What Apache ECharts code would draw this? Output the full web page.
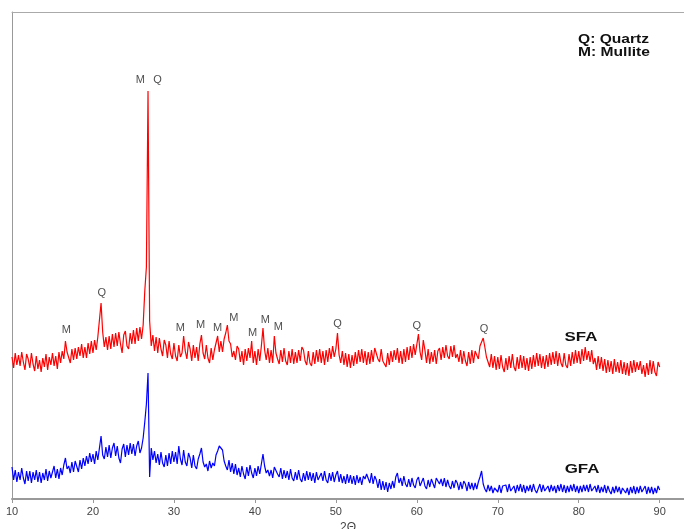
<!DOCTYPE html>
<html>
<head>
<meta charset="utf-8">
<script src="https://cdn.jsdelivr.net/npm/echarts@6/dist/echarts.min.js"></script>
<style>html,body{margin:0;padding:0;background:#fff;}#chart{width:684px;height:529px;}</style>
</head>
<body>
<div id="chart"></div>
<script>
// 2-theta sampling of the scans
const thetaStart = 10;
const thetaStep = 0.2;
const xTicks = [10, 20, 30, 40, 50, 60, 70, 80, 90];

// SFA intensity (arbitrary units, offset trace)
const sfaIntensity = [
142,131,146,134,144, 133,147,137,129,145, 140,131,146,135,128, 143,130,139,127,141,
132,145,129,142,134, 146,133,143,130,147, 136,148,140,158,147, 145,136,150,139,151,
140,152,143,155,141, 152,141,156,145,158, 146,159,149,162,160, 196,167,152,162,149,
163,150,165,152,166, 153,167,155,146,164, 168,153,150,166,155, 169,155,171,158,172,
160,174,208,232,408, 178,153,164,148,162, 146,161,150,143,159, 154,141,158,145,140,
156,143,138,154,142, 146,163,148,140,157, 150,138,154,141,152, 138,155,164,146,140,
154,141,136,151,139, 149,156,163,147,158, 147,160,166,174,158, 155,142,148,139,153,
150,137,148,134,150, 138,151,141,158,136, 148,134,150,138,153, 171,149,139,151,136,
149,136,163,146,140, 135,149,137,151,138, 134,148,136,150,135, 147,136,149,138,152,
149,138,134,148,136, 133,147,135,149,137, 150,136,148,134,149, 137,151,140,153,142,
150,166,144,136,148, 134,146,132,145,131, 144,133,147,135,149, 137,150,136,148,134,
147,135,149,137,151, 152,140,137,150,138, 135,132,146,134,148, 137,149,139,151,136,
148,135,150,137,152, 139,153,141,155,144, 143,165,147,139,159, 149,136,150,135,147,
137,149,135,148,151, 139,152,141,154,143, 140,153,142,154,141, 145,137,149,135,148,
138,133,147,135,149, 136,148,150,140,153, 155,161,152,142,137, 132,145,131,143,129,
142,130,144,132,127, 141,129,143,131,145, 132,128,142,130,144, 131,143,129,141,128,
142,130,144,132,146, 133,145,131,143,130, 144,132,146,134,147, 135,148,133,146,136,
132,146,134,131,145, 133,147,135,149,136, 148,135,150,138,152, 139,148,137,149,135,
141,129,143,130,142, 128,140,126,139,127, 138,125,140,127,137, 126,139,125,137,124,
136,123,138,126,139, 127,137,129,138,125, 134,122,136,124,139, 125,138,127,123,137,
132
];

// GFA intensity (arbitrary units)
const gfaIntensity = [
32,19,29,17,27, 19,31,21,15,28, 18,28,16,27,19, 29,17,27,16,26,
19,30,18,28,21, 27,33,21,30,20, 31,24,34,41,30, 33,26,37,27,38,
37,27,39,30,41, 33,43,35,46,37, 45,35,48,39,51, 63,44,40,52,42,
54,41,51,56,43, 53,41,36,50,55, 42,54,44,56,45, 55,43,53,58,46,
51,61,77,95,126, 22,51,39,48,36, 45,34,47,36,32, 44,33,46,35,48,
37,47,35,53,40, 34,49,37,33,46, 41,31,44,33,30, 40,45,51,37,32,
35,28,38,31,36, 33,44,48,53,54, 49,38,33,29,39, 27,36,25,35,24,
31,22,33,25,20, 32,23,34,26,21, 31,23,33,25,35, 45,33,26,29,23,
29,21,32,33,25, 22,31,20,29,21, 28,19,30,21,18, 27,19,29,20,17,
26,18,28,19,27, 18,26,16,27,19, 17,26,18,28,19, 16,26,18,27,17,
24,28,17,25,16, 23,15,25,16,24, 15,23,14,24,16, 22,14,23,20,25,
24,16,26,15,23, 19,11,20,9,18, 9,17,7,16,10, 18,11,22,26,16,
21,13,23,15,12, 20,12,21,14,11, 19,22,13,12,21, 13,10,19,12,20,
18,11,21,22,15, 20,13,21,12,19, 13,10,18,11,19, 16,9,17,10,18,
15,8,17,10,16, 9,16,10,17,22, 28,15,10,7,14, 8,13,6,11,13,
7,14,6,13,12, 14,7,15,8,6, 13,6,14,8,15, 7,14,6,13,8,
14,7,15,9,6, 8,15,7,14,8, 6,13,7,14,8, 13,6,14,8,15,
7,14,6,13,7, 14,8,15,7,13, 6,13,7,14,8, 14,7,15,8,6,
13,7,14,6,12, 7,14,6,13,8, 5,12,6,13,7, 12,5,11,13,6,
11,4,12,6,13, 5,12,6,13,7, 6,13,5,12,6, 12,5,11,6,13,
9
];

// Phase labels above peaks
const peakLabelText = ['M','Q','M','Q','M','M','M','M','M','M','M','Q','Q','Q'];
const peakLabelX = [16.7, 21.1, 25.85, 27.96, 30.8, 33.3, 35.4, 37.4, 39.7, 41.3, 42.9, 50.2, 60.0, 68.3];
const peakLabelY = [169, 206, 419, 419, 171, 174, 171, 181, 166, 179, 172, 175, 173, 170];

function toPairs(vals) {
  return vals.map((v, i) => [+(thetaStart + i * thetaStep).toFixed(2), v]);
}

const chart = echarts.init(document.getElementById('chart'), null, {renderer: 'canvas'});
const fontFam = 'Liberation Sans, Arial, sans-serif';

chart.setOption({
  animation: false,
  backgroundColor: '#ffffff',
  grid: {left: 12, right: 0, top: 12, bottom: 30, containLabel: false, outerBoundsMode: 'none'},
  xAxis: [{
    type: 'value', min: 10, max: 93,
    name: '2Θ', nameLocation: 'middle', nameGap: 21,
    nameTextStyle: {color: '#444', fontSize: 12, fontFamily: fontFam},
    axisLine: {lineStyle: {color: '#999', width: 2}},
    axisTick: {show: true, length: 4, lineStyle: {color: '#999'}, customValues: xTicks},
    axisLabel: {color: '#444', fontSize: 11, fontFamily: fontFam, margin: 7, customValues: xTicks},
    splitLine: {show: false}
  }, {
    type: 'value', min: 10, max: 93, position: 'top',
    axisLine: {show: true, lineStyle: {color: '#aaa', width: 1}},
    axisTick: {show: false}, axisLabel: {show: false}, splitLine: {show: false}
  }],
  yAxis: {
    type: 'value', min: 0, max: 487,
    axisLine: {show: true, lineStyle: {color: '#999', width: 1}},
    axisTick: {show: false}, axisLabel: {show: false}, splitLine: {show: false}
  },
  series: [
    {
      name: 'SFA', type: 'line', data: toPairs(sfaIntensity), showSymbol: false, symbol: 'none',
      lineStyle: {color: '#ff0000', width: 1.2}, z: 3
    },
    {
      name: 'GFA', type: 'line', data: toPairs(gfaIntensity), showSymbol: false, symbol: 'none',
      lineStyle: {color: '#0000ff', width: 1.2}, z: 3
    },
    {
      name: 'labels', type: 'scatter', symbolSize: 0, silent: true,
      data: peakLabelText.map((t, i) => ({value: [peakLabelX[i], peakLabelY[i]], name: t})),
      label: {show: true, position: 'inside', formatter: p => p.name, color: '#222', fontSize: 11, fontFamily: fontFam}
    }
  ],
  graphic: [
    {type: 'text', x: 578, y: 40, scaleX: 1.3, style: {text: 'Q: Quartz', font: 'bold 12px ' + fontFam, fill: '#111', textAlign: 'left', textVerticalAlign: 'middle'}},
    {type: 'text', x: 578, y: 53, scaleX: 1.3, style: {text: 'M: Mullite', font: 'bold 12px ' + fontFam, fill: '#111', textAlign: 'left', textVerticalAlign: 'middle'}},
    {type: 'text', x: 581, y: 337, scaleX: 1.3, style: {text: 'SFA', font: 'bold 13px ' + fontFam, fill: '#111', textAlign: 'center', textVerticalAlign: 'middle'}},
    {type: 'text', x: 582, y: 469, scaleX: 1.3, style: {text: 'GFA', font: 'bold 13px ' + fontFam, fill: '#111', textAlign: 'center', textVerticalAlign: 'middle'}}
  ]
});
</script>
</body>
</html>
